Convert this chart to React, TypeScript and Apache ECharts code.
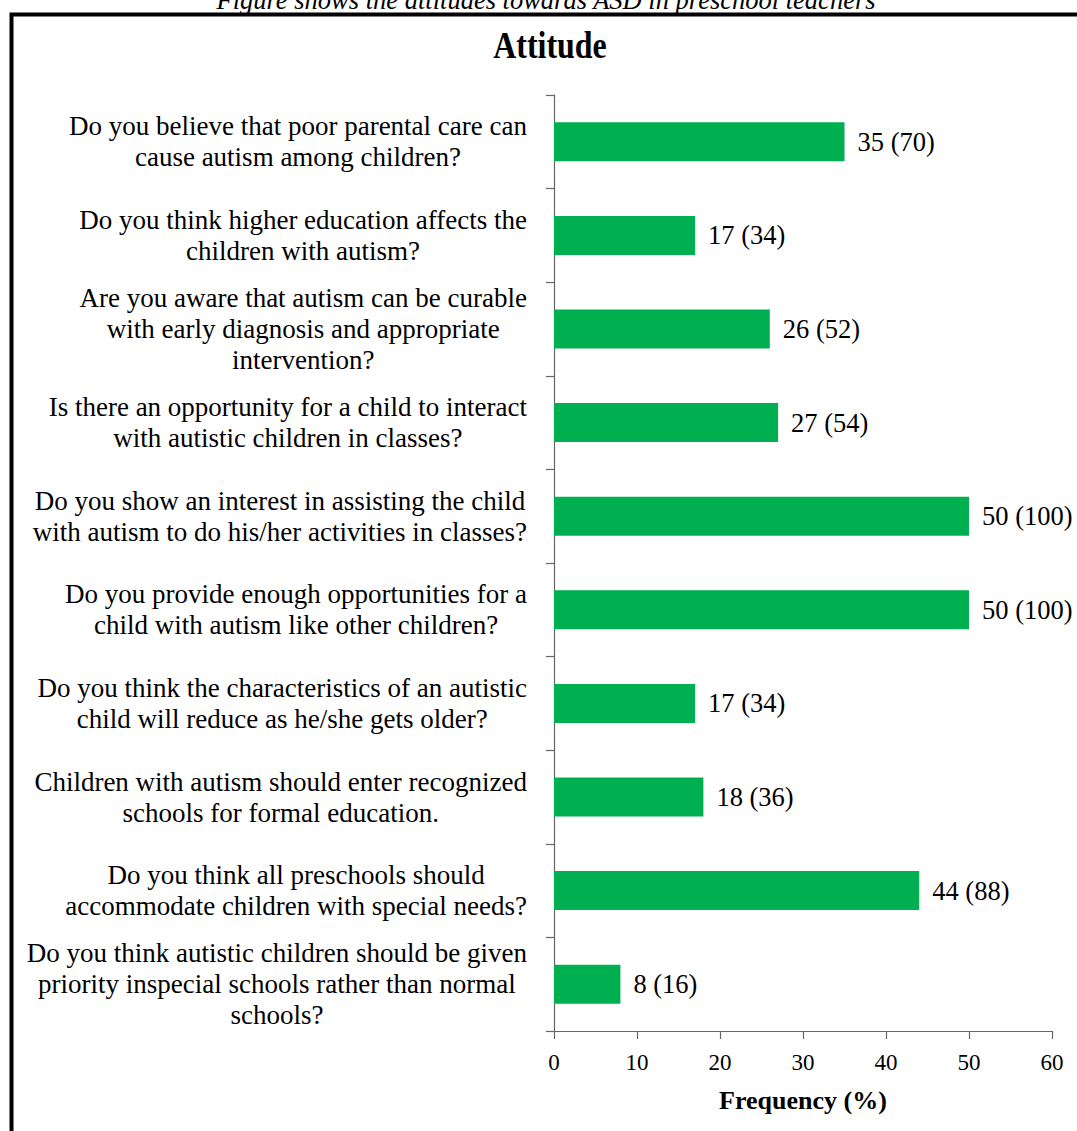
import React, { useEffect, useRef } from "react";
import * as echarts from "echarts";

const categories: string[] = [
  "Do you believe that poor parental care can\ncause autism among children?",
  "Do you think higher education affects the\nchildren with autism?",
  "Are you aware that autism can be curable\nwith early diagnosis and appropriate\nintervention?",
  "Is there an opportunity for a child to interact\nwith autistic children in classes?",
  "Do you show an interest in assisting the child\nwith autism to do his/her activities in classes?",
  "Do you provide enough opportunities for a\nchild with autism like other children?",
  "Do you think the characteristics of an autistic\nchild will reduce as he/she gets older?",
  "Children with autism should enter recognized\nschools for formal education.",
  "Do you think all preschools should\naccommodate children with special needs?",
  "Do you think autistic children should be given\npriority inspecial schools rather than normal\nschools?",
];
const frequencies: number[] = [35, 17, 26, 27, 50, 50, 17, 18, 44, 8];
const percents: number[] = [70, 34, 52, 54, 100, 100, 34, 36, 88, 16];
const xTicks: number[] = [0, 10, 20, 30, 40, 50, 60];

const chartTitle = "Attitude";
const caption = "Figure shows the attitudes towards ASD in preschool teachers";
const xName = "Frequency (%)";

const SERIF = "'Liberation Serif', 'Times New Roman', serif";

export default function App() {
  const ref = useRef<HTMLDivElement>(null);
  useEffect(() => {
    if (!ref.current) return;
    const chart = echarts.init(ref.current, undefined, { renderer: "svg" });
    chart.setOption({
      animation: false,
      backgroundColor: "#ffffff",
      textStyle: { fontFamily: SERIF },
      graphic: [
        {
          type: "rect",
          shape: { x: 11.5, y: 14.5, width: 1200, height: 1300 },
          style: { fill: "none", stroke: "#000", lineWidth: 4 },
          silent: true,
        },
        {
          type: "text",
          x: 546,
          y: 13,
          style: {
            text: caption,
            fontFamily: SERIF,
            fontStyle: "italic",
            fontSize: 26.5,
            fill: "#000",
            align: "center",
            verticalAlign: "bottom",
          },
        },
        {
          type: "text",
          x: 550,
          y: 46,
          scaleX: 0.84,
          style: {
            text: chartTitle,
            fontFamily: SERIF,
            fontWeight: "bold",
            fontSize: 38,
            fill: "#000",
            align: "center",
            verticalAlign: "middle",
          },
        },
      ],
      grid: { left: 554, right: 25, top: 95, bottom: 100, containLabel: false },
      xAxis: {
        type: "value",
        min: xTicks[0],
        max: xTicks[xTicks.length - 1],
        interval: 10,
        name: xName,
        nameLocation: "middle",
        nameGap: 56,
        nameTextStyle: { fontFamily: SERIF, fontWeight: "bold", fontSize: 26, color: "#000" },
        axisLine: { show: true, lineStyle: { color: "#666", width: 1.2 } },
        axisTick: { show: true, length: 8, lineStyle: { color: "#666", width: 1.2 } },
        axisLabel: { fontFamily: SERIF, fontSize: 23, color: "#000", margin: 20 },
        splitLine: { show: false },
      },
      yAxis: {
        type: "category",
        inverse: true,
        data: categories,
        axisLine: { show: true, lineStyle: { color: "#666", width: 1.2 } },
        axisTick: { show: true, length: 8, lineStyle: { color: "#666", width: 1.2 } },
        axisLabel: {
          margin: 27,
          fontFamily: SERIF,
          fontSize: 27,
          color: "#000",
          lineHeight: 31,
          formatter: (v: string) =>
            v
              .split("\n")
              .map((line) => `{c|${line}}`)
              .join("\n"),
          rich: {
            c: {
              align: "center",
              fontFamily: SERIF,
              fontSize: 27,
              lineHeight: 31,
              color: "#000",
            },
          },
        },
      },
      series: [
        {
          type: "bar",
          data: frequencies,
          barWidth: 39,
          itemStyle: { color: "#00b050" },
          label: {
            show: true,
            position: "right",
            distance: 13,
            fontFamily: SERIF,
            fontSize: 26.5,
            color: "#000",
            formatter: (p: any) => `${p.value} (${percents[p.dataIndex]})`,
          },
        },
      ],
    });
    return () => chart.dispose();
  }, []);
  return (
    <div
      ref={ref}
      style={{ position: "fixed", left: 0, top: 0, width: 1077, height: 1131 }}
    />
  );
}
